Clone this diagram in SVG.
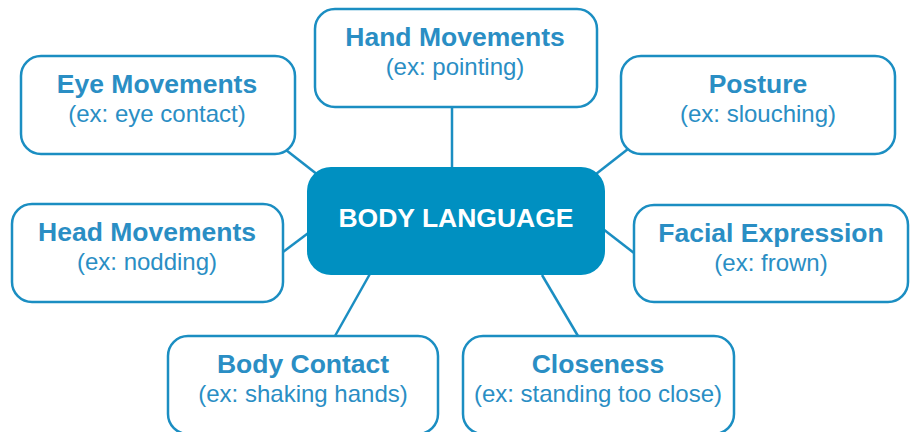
<svg xmlns="http://www.w3.org/2000/svg" width="915" height="432" viewBox="0 0 915 432">
<style>
.box{fill:#ffffff;stroke:#1b8ec2;stroke-width:2.5}
.center{fill:#0090c1}
.t{font-family:"Liberation Sans",Arial,sans-serif;font-weight:bold;font-size:26.5px;fill:#2a8ec4;text-anchor:middle}
.s{font-family:"Liberation Sans",Arial,sans-serif;font-size:24px;fill:#2a8ec4;text-anchor:middle}
.ct{font-family:"Liberation Sans",Arial,sans-serif;font-weight:bold;font-size:26.5px;fill:#ffffff;text-anchor:middle}
.c{stroke:#1b8ec2;stroke-width:2.5;fill:none}
</style>
<rect width="915" height="432" fill="#ffffff"/>
<g id="connectors">
<line class="c" x1="286" y1="150" x2="318" y2="175"/>
<line class="c" x1="452" y1="107" x2="452" y2="168"/>
<line class="c" x1="628" y1="149" x2="596" y2="174"/>
<line class="c" x1="283" y1="252" x2="315" y2="228"/>
<line class="c" x1="335" y1="336" x2="371" y2="272"/>
<line class="c" x1="603" y1="229" x2="634" y2="253"/>
<line class="c" x1="542" y1="275" x2="578" y2="336"/>
</g>
<g id="eye">
<rect class="box" x="21" y="56" width="274" height="98" rx="20"/>
<text class="t" x="157" y="93">Eye Movements</text>
<text class="s" x="157" y="122">(ex: eye contact)</text>
</g>
<g id="hand">
<rect class="box" x="315" y="9" width="282" height="98" rx="20"/>
<text class="t" x="455" y="46">Hand Movements</text>
<text class="s" x="455" y="75">(ex: pointing)</text>
</g>
<g id="posture">
<rect class="box" x="621" y="56" width="274" height="98" rx="20"/>
<text class="t" x="758" y="93">Posture</text>
<text class="s" x="758" y="122">(ex: slouching)</text>
</g>
<g id="head">
<rect class="box" x="12" y="204" width="271" height="98" rx="20"/>
<text class="t" x="147" y="241">Head Movements</text>
<text class="s" x="147" y="270">(ex: nodding)</text>
</g>
<g id="facial">
<rect class="box" x="634" y="205" width="274" height="97" rx="20"/>
<text class="t" x="771" y="242">Facial Expression</text>
<text class="s" x="771" y="271">(ex: frown)</text>
</g>
<g id="contact">
<rect class="box" x="168" y="336" width="270" height="98" rx="20"/>
<text class="t" x="303" y="373">Body Contact</text>
<text class="s" x="303" y="402">(ex: shaking hands)</text>
</g>
<g id="closeness">
<rect class="box" x="463" y="336" width="271" height="98" rx="20"/>
<text class="t" x="598" y="373">Closeness</text>
<text class="s" x="598" y="402">(ex: standing too close)</text>
</g>
<g id="body-language">
<rect class="center" x="307" y="167" width="298" height="108" rx="24"/>
<text class="ct" x="456" y="227">BODY LANGUAGE</text>
</g>
</svg>
